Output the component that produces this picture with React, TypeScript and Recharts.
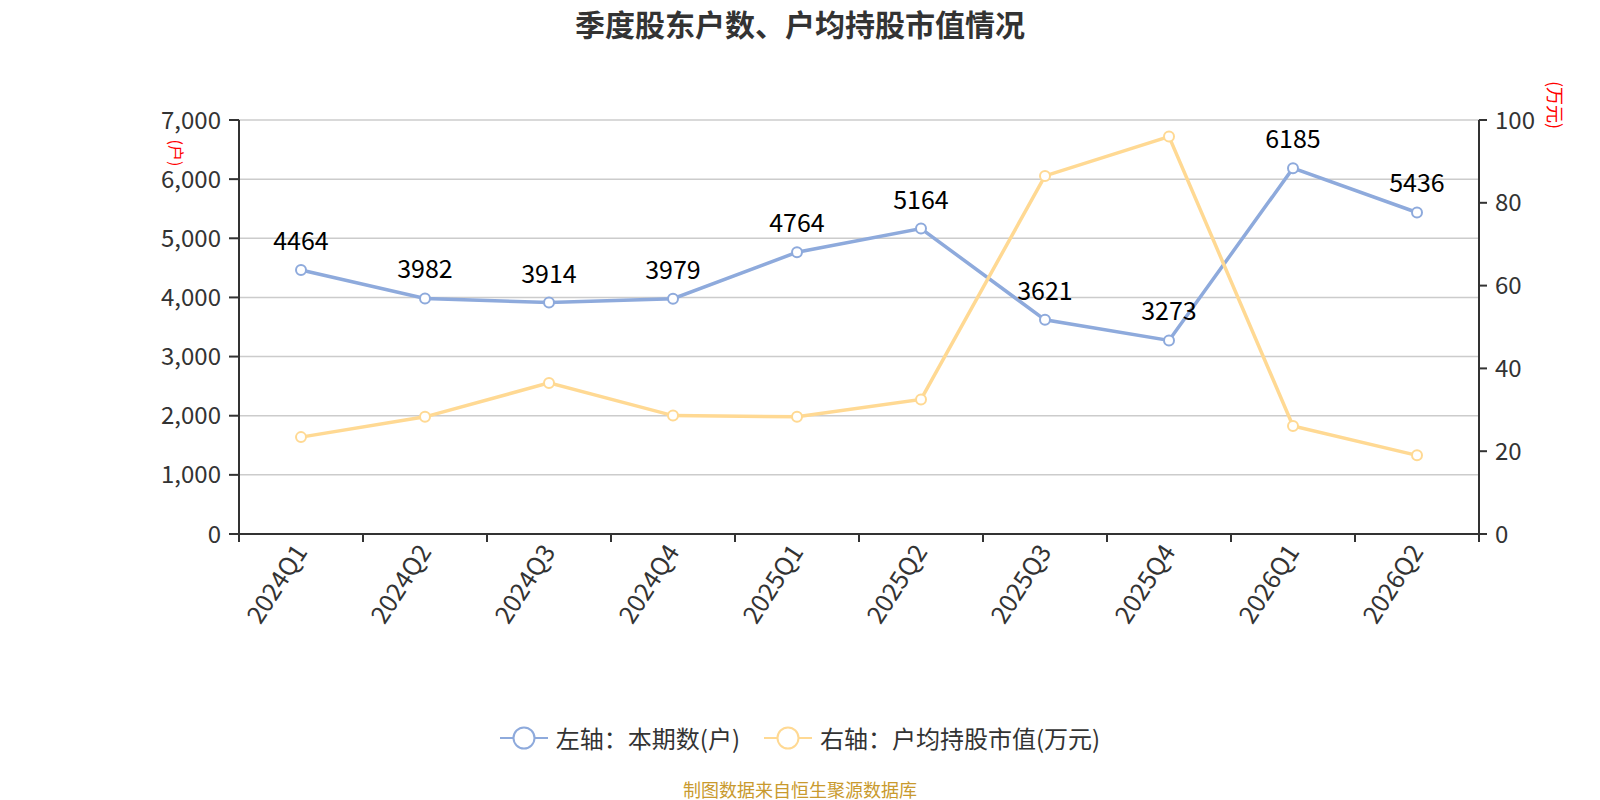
import { CartesianGrid, LabelList, Line, LineChart, XAxis, YAxis } from 'recharts';

const CATEGORIES = ['2024Q1', '2024Q2', '2024Q3', '2024Q4', '2025Q1', '2025Q2', '2025Q3', '2025Q4', '2026Q1', '2026Q2'];
const HOLDERS = [4464, 3982, 3914, 3979, 4764, 5164, 3621, 3273, 6185, 5436];
const AVG_VALUE = [23.4, 28.3, 36.5, 28.6, 28.3, 32.5, 86.5, 96.0, 26.1, 19.0];
const LEFT_TICKS = [0, 1000, 2000, 3000, 4000, 5000, 6000, 7000];
const RIGHT_TICKS = [0, 20, 40, 60, 80, 100];

const TITLE = '季度股东户数、户均持股市值情况';
const SOURCE = '制图数据来自恒生聚源数据库';
const LEFT_UNIT = '(户)';
const RIGHT_UNIT = '(万元)';
const SERIES = [
  { key: 'holders', name: '左轴：本期数(户)', color: '#8eaadc', axis: 'left' },
  { key: 'avg', name: '右轴：户均持股市值(万元)', color: '#ffd993', axis: 'right' }
];

const data = CATEGORIES.map((quarter, i) => ({ quarter, holders: HOLDERS[i], avg: AVG_VALUE[i] }));

const WIDTH = 1600;
const HEIGHT = 800;
const Y_AXIS_W = 80;
const MARGIN = { top: 120, right: 41, bottom: 166, left: 159 };
const BAND = (WIDTH - MARGIN.left - MARGIN.right - 2 * Y_AXIS_W) / CATEGORIES.length;
const X_TICK_SIZE = 8;
const X_TICK_MARGIN = 5;
const FONT = '"Noto Sans CJK SC", "Noto Sans", sans-serif';
const AXIS_COLOR = '#333';

function QuarterTick(props: any) {
  const { x, y, payload, index } = props;
  const axisY = y - X_TICK_SIZE - X_TICK_MARGIN;
  const last = index === CATEGORIES.length - 1;
  return (
    <g>
      <line stroke={AXIS_COLOR} strokeWidth={2} x1={x - BAND / 2} x2={x - BAND / 2} y1={axisY} y2={axisY + X_TICK_SIZE} />
      {last ? <line stroke={AXIS_COLOR} strokeWidth={2} x1={x + BAND / 2} x2={x + BAND / 2} y1={axisY} y2={axisY + X_TICK_SIZE} /> : null}
      <text dy="0.35em" fill="#333" fontSize={25} textAnchor="end" transform={`rotate(-57 ${x} ${y})`} x={x} y={y}>
        {payload.value}
      </text>
    </g>
  );
}

function LegendIcon({ color }: { color: string }) {
  return (
    <svg height={28} width={48}>
      <line stroke={color} strokeWidth={2} x1={0} x2={48} y1={14} y2={14} />
      <circle cx={24} cy={14} fill="#fff" r={10.5} stroke={color} strokeWidth={2} />
    </svg>
  );
}

export default function App() {
  return (
    <div style={{ position: 'absolute', left: 0, top: 0, width: WIDTH, height: HEIGHT, background: '#fff', fontFamily: FONT }}>
      <div style={{ position: 'absolute', top: 3, left: 0, width: WIDTH, textAlign: 'center', fontSize: 30, fontWeight: 'bold', color: '#333', lineHeight: '40px' }}>
        {TITLE}
      </div>
      <div style={{ position: 'absolute', left: 177, top: 153, transform: 'translate(-50%, -50%) rotate(90deg)', color: '#f00', fontSize: 16, whiteSpace: 'nowrap' }}>
        {LEFT_UNIT}
      </div>
      <div style={{ position: 'absolute', left: 1556, top: 105, transform: 'translate(-50%, -50%) rotate(90deg)', color: '#f00', fontSize: 18, whiteSpace: 'nowrap' }}>
        {RIGHT_UNIT}
      </div>
      <LineChart data={data} height={HEIGHT} margin={MARGIN} width={WIDTH}>
        <CartesianGrid stroke="#cccccc" strokeWidth={1.5} vertical={false} yAxisId="left" />
        <XAxis
          axisLine={{ stroke: AXIS_COLOR, strokeWidth: 2 }}
          dataKey="quarter"
          height={100}
          interval={0}
          padding={{ left: BAND / 2, right: BAND / 2 }}
          tick={<QuarterTick />}
          tickLine={false}
          tickMargin={X_TICK_MARGIN}
          tickSize={X_TICK_SIZE}
        />
        <YAxis
          axisLine={{ stroke: AXIS_COLOR, strokeWidth: 2 }}
          domain={[0, 7000]}
          interval={0}
          tick={{ fill: '#333', fontSize: 24 }}
          tickFormatter={(v: number) => v.toLocaleString('en-US')}
          tickLine={{ stroke: AXIS_COLOR, strokeWidth: 2 }}
          tickMargin={8}
          tickSize={10}
          ticks={LEFT_TICKS}
          width={Y_AXIS_W}
          yAxisId="left"
        />
        <YAxis
          axisLine={{ stroke: AXIS_COLOR, strokeWidth: 2 }}
          domain={[0, 100]}
          interval={0}
          orientation="right"
          tick={{ fill: '#333', fontSize: 24 }}
          tickLine={{ stroke: AXIS_COLOR, strokeWidth: 2 }}
          tickMargin={8}
          tickSize={8}
          ticks={RIGHT_TICKS}
          width={Y_AXIS_W}
          yAxisId="right"
        />
        {SERIES.map((s) => (
          <Line
            dataKey={s.key}
            dot={{ r: 5, fill: '#fff', stroke: s.color, strokeWidth: 2 }}
            isAnimationActive={false}
            key={s.key}
            name={s.name}
            stroke={s.color}
            strokeWidth={3.5}
            type="linear"
            yAxisId={s.axis}
          >
            {s.key === 'holders' ? <LabelList dataKey="holders" fill="#000" fontSize={25} offset={20} position="top" /> : null}
          </Line>
        ))}
      </LineChart>
      <div style={{ position: 'absolute', top: 720, left: 0, width: WIDTH, display: 'flex', justifyContent: 'center', alignItems: 'center', gap: 24, fontSize: 24, color: '#333' }}>
        {SERIES.map((s) => (
          <div key={s.key} style={{ display: 'flex', alignItems: 'center', gap: 8 }}>
            <LegendIcon color={s.color} />
            <span>{s.name}</span>
          </div>
        ))}
      </div>
      <div style={{ position: 'absolute', top: 776, left: 0, width: WIDTH, textAlign: 'center', fontSize: 18, color: '#c99a2e', lineHeight: '26px' }}>
        {SOURCE}
      </div>
    </div>
  );
}
